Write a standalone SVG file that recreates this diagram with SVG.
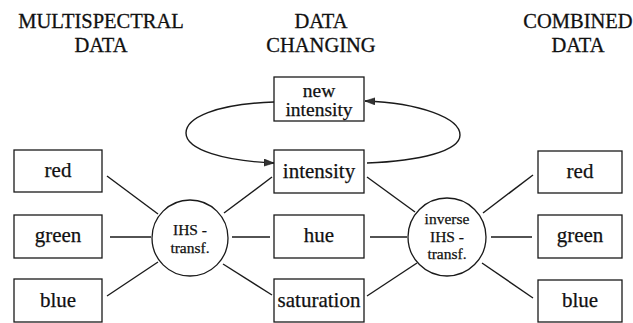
<svg xmlns="http://www.w3.org/2000/svg" width="633" height="323" viewBox="0 0 633 323">
  <style>
    .box { fill: #fff; stroke: #1a1a1a; stroke-width: 1.3; }
    .hub { fill: #fff; stroke: #1a1a1a; stroke-width: 1.3; }
    text { fill: #111; text-anchor: middle; stroke: #111; }
    .lbl { font-size: 21px; stroke-width: 0.25; }
    .lbl2 { font-size: 19.5px; stroke-width: 0.25; }
    .hubtxt { font-size: 15.5px; stroke-width: 0.25; }
    .head { font-size: 20.5px; stroke-width: 0.3; }
    .edge { fill: none; stroke: #1a1a1a; stroke-width: 1.4; }
  </style>
  <defs>
    <marker id="arrow" markerUnits="userSpaceOnUse" markerWidth="11" markerHeight="8" refX="10" refY="4" orient="auto">
      <path d="M0,0.5 L10,4 L0,7.5 Z" fill="#333" stroke="#111" stroke-width="0.6"/>
    </marker>
  </defs>

  <g font-family="Liberation Serif, Times New Roman, Times, DejaVu Serif, serif">
  <!-- column headings -->
  <g id="headings">
    <text class="head" x="101" y="28">MULTISPECTRAL</text>
    <text class="head" x="101" y="52">DATA</text>
    <text class="head" x="321" y="28">DATA</text>
    <text class="head" x="321" y="52">CHANGING</text>
    <text class="head" x="578" y="28">COMBINED</text>
    <text class="head" x="578" y="52">DATA</text>
  </g>

  <!-- connectors -->
  <g id="connectors">
    <!-- input bands to IHS transform -->
    <line class="edge" x1="107" y1="176" x2="158" y2="214"/>
    <line class="edge" x1="110" y1="237" x2="151" y2="237"/>
    <line class="edge" x1="107" y1="296" x2="158" y2="262"/>
    <!-- IHS transform to components -->
    <line class="edge" x1="224" y1="213" x2="272" y2="177"/>
    <line class="edge" x1="232" y1="237" x2="270" y2="237"/>
    <line class="edge" x1="223" y1="264" x2="272" y2="295"/>
    <!-- components to inverse transform -->
    <line class="edge" x1="367" y1="177" x2="415" y2="212"/>
    <line class="edge" x1="370" y1="237" x2="407" y2="237"/>
    <line class="edge" x1="367" y1="296" x2="417" y2="263"/>
    <!-- inverse transform to output bands -->
    <line class="edge" x1="483" y1="213" x2="533" y2="175"/>
    <line class="edge" x1="491" y1="237" x2="532" y2="237"/>
    <line class="edge" x1="482" y1="263" x2="533" y2="298"/>
    <!-- intensity replacement loop -->
    <path class="edge" d="M274,102 C215,104 186,118 186,133 C186,150 225,161 274,163" marker-end="url(#arrow)"/>
    <path class="edge" d="M367,163 C420,161 460,151 460,135 C460,118 420,103 365,101" marker-end="url(#arrow)"/>
  </g>

  <!-- multispectral bands -->
  <g id="in-red">
    <rect class="box" x="14" y="150" width="88" height="42"/>
    <text class="lbl" x="58" y="177">red</text>
  </g>
  <g id="in-green">
    <rect class="box" x="14" y="215" width="88" height="43"/>
    <text class="lbl" x="58" y="242">green</text>
  </g>
  <g id="in-blue">
    <rect class="box" x="14" y="279" width="88" height="43"/>
    <text class="lbl" x="58" y="307">blue</text>
  </g>

  <!-- forward transform -->
  <g id="ihs">
    <circle class="hub" cx="190" cy="238" r="38"/>
    <text class="hubtxt" x="190" y="234.5">IHS -</text>
    <text class="hubtxt" x="190" y="252.5">transf.</text>
  </g>

  <!-- IHS components -->
  <g id="new-intensity">
    <rect class="box" x="274" y="77" width="90" height="44"/>
    <text class="lbl2" x="319" y="97">new</text>
    <text class="lbl2" x="319" y="116">intensity</text>
  </g>
  <g id="intensity">
    <rect class="box" x="274" y="150" width="90" height="43"/>
    <text class="lbl" x="319" y="178">intensity</text>
  </g>
  <g id="hue">
    <rect class="box" x="274" y="215" width="90" height="43"/>
    <text class="lbl" x="319" y="242">hue</text>
  </g>
  <g id="saturation">
    <rect class="box" x="274" y="279" width="90" height="43"/>
    <text class="lbl" x="319" y="307">saturation</text>
  </g>

  <!-- inverse transform -->
  <g id="inverse-ihs">
    <circle class="hub" cx="447" cy="237" r="39"/>
    <text class="hubtxt" x="447" y="224">inverse</text>
    <text class="hubtxt" x="447" y="241.5">IHS -</text>
    <text class="hubtxt" x="447" y="259">transf.</text>
  </g>

  <!-- combined bands -->
  <g id="out-red">
    <rect class="box" x="538" y="151" width="84" height="42"/>
    <text class="lbl" x="580" y="178">red</text>
  </g>
  <g id="out-green">
    <rect class="box" x="538" y="215" width="84" height="43"/>
    <text class="lbl" x="580" y="242">green</text>
  </g>
  <g id="out-blue">
    <rect class="box" x="538" y="280" width="84" height="42"/>
    <text class="lbl" x="580" y="307">blue</text>
  </g>
  </g>
</svg>
